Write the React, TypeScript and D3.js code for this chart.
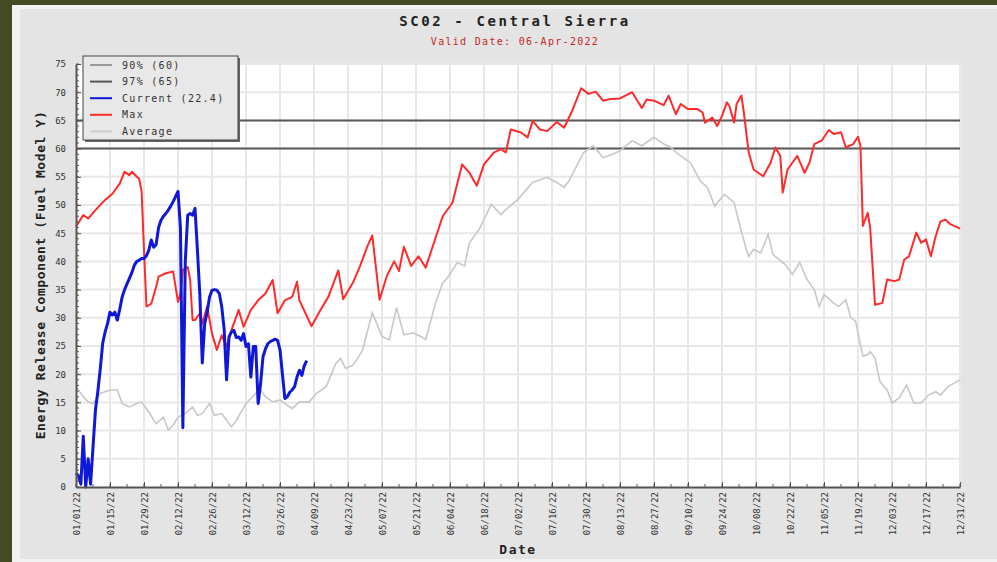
import { useEffect, useRef } from "react";
import * as d3 from "d3";

// day of year (0 = Jan 1 2022), ERC value
const maxErc: [number, number][] = [
  [0, 46.2], [3, 48.2], [5, 47.6], [8, 49.1], [12, 50.9], [15, 52.0], [18, 53.8], [20, 55.9],
  [22, 55.3], [23, 55.9], [26, 54.6], [27, 52.5], [28, 42.0], [29, 32.0], [31, 32.5], [33, 35.5],
  [34, 37.3], [37, 37.9], [40, 38.2], [42, 32.8], [43, 34.3], [44, 38.5], [46, 39.0], [47, 36.7],
  [48, 29.6], [49, 29.6], [51, 30.8], [52, 29.0], [54, 32.0], [56, 27.2], [58, 24.3], [60, 26.9],
  [62, 24.9], [64, 27.8], [67, 31.4], [69, 28.4], [72, 31.4], [75, 33.1], [78, 34.3], [81, 36.7],
  [83, 30.8], [86, 33.1], [89, 33.7], [91, 36.4], [92, 33.1], [97, 28.5], [100, 30.9], [104, 33.8],
  [108, 38.4], [110, 33.3], [114, 36.2], [117, 39.2], [120, 42.7], [122, 44.6], [125, 33.2],
  [128, 37.4], [131, 40.0], [133, 38.3], [135, 42.6], [138, 39.2], [141, 40.9], [144, 38.9],
  [151, 48.0], [155, 50.4], [159, 57.2], [162, 55.7], [165, 53.4], [168, 57.2], [172, 59.3],
  [175, 59.9], [177, 59.3], [179, 63.4], [183, 62.9], [186, 62.0], [188, 64.9], [191, 63.4],
  [194, 63.1], [198, 64.7], [201, 63.7], [204, 66.4], [208, 70.7], [211, 69.7], [214, 70.1],
  [217, 68.5], [220, 68.8], [224, 68.9], [229, 70.0], [233, 67.2], [235, 68.7], [238, 68.5],
  [242, 67.7], [244, 69.4], [247, 66.1], [249, 67.9], [252, 67.0], [256, 67.0], [258, 66.4],
  [259, 64.6], [262, 65.5], [264, 64.0], [266, 65.8], [268, 68.2], [269, 67.6], [271, 64.6],
  [272, 67.9], [274, 69.4], [275, 66.4], [277, 59.3], [279, 56.3], [283, 55.1], [286, 57.5],
  [288, 60.2], [290, 58.7], [291, 52.2], [293, 56.3], [297, 58.7], [300, 55.7], [302, 57.5],
  [304, 60.8], [307, 61.4], [310, 63.3], [312, 62.6], [315, 62.9], [317, 60.2], [320, 60.8],
  [322, 62.1], [323, 60.5], [324, 46.3], [326, 48.6], [327, 46.0], [329, 32.3], [332, 32.6],
  [334, 36.8], [337, 36.5], [339, 36.8], [341, 40.3], [343, 40.9], [346, 45.1], [348, 43.3],
  [350, 43.9], [352, 40.9], [354, 44.5], [356, 47.1], [358, 47.4], [360, 46.6], [364, 45.8],
];

const avgErc: [number, number][] = [
  [0, 17.8], [3, 16.0], [5, 15.1], [7, 14.8], [10, 16.6], [14, 17.2], [17, 17.2], [19, 14.8],
  [22, 14.2], [25, 14.8], [27, 15.1], [30, 13.3], [33, 11.2], [36, 12.4], [38, 10.1], [40, 11.0],
  [42, 12.4], [45, 13.0], [48, 14.2], [50, 12.7], [52, 13.0], [55, 14.8], [57, 12.7], [60, 13.0],
  [64, 10.7], [66, 11.8], [70, 14.8], [74, 16.6], [76, 17.2], [78, 16.0], [81, 15.1], [84, 15.4],
  [86, 14.8], [89, 13.9], [92, 15.1], [96, 15.1], [99, 16.6], [103, 17.8], [107, 21.9],
  [109, 22.8], [111, 21.0], [114, 21.6], [116, 22.8], [118, 24.3], [122, 30.9], [126, 26.7],
  [129, 26.1], [132, 31.8], [135, 27.0], [139, 27.3], [142, 26.7], [144, 26.1], [148, 32.6],
  [151, 36.2], [153, 37.1], [157, 39.8], [160, 39.2], [162, 43.3], [166, 45.7], [171, 50.1],
  [175, 48.3], [177, 49.2], [182, 51.0], [188, 54.0], [194, 54.9], [198, 54.0], [201, 53.1],
  [203, 54.3], [209, 59.3], [213, 60.5], [217, 58.4], [221, 59.0], [224, 59.6], [229, 61.4],
  [233, 60.5], [238, 62.0], [242, 60.8], [245, 60.2], [248, 59.0], [253, 57.5], [257, 54.3],
  [260, 53.1], [263, 49.8], [267, 51.9], [271, 50.4], [273, 46.9], [276, 42.1], [277, 40.9],
  [279, 42.1], [282, 41.5], [285, 44.8], [287, 41.2], [291, 39.8], [292, 39.5], [295, 37.7],
  [298, 39.8], [301, 36.8], [304, 35.0], [306, 32.0], [308, 34.1], [312, 32.6], [314, 32.0],
  [317, 33.2], [319, 30.0], [321, 29.4], [324, 23.2], [326, 23.5], [327, 24.0], [329, 22.9],
  [331, 18.7], [334, 17.2], [336, 14.9], [339, 15.8], [342, 18.1], [345, 14.9], [348, 14.9],
  [351, 16.3], [354, 16.9], [356, 16.3], [359, 17.8], [364, 19.0],
];

const currentErc: [number, number][] = [
  [0, 2.4], [1, 2.0], [2, 0.5], [3, 9.0], [4, 0], [5, 5.0], [6, 0.5], [7, 7.0], [8, 13.6],
  [9, 17.0], [10, 21.0], [11, 25.5], [12, 27.5], [13, 29.0], [14, 31.0], [15, 30.5], [16, 31.0],
  [17, 29.6], [18, 31.5], [19, 33.7], [20, 35.0], [21, 36.0], [22, 37.0], [23, 38.0], [24, 39.3],
  [25, 40.0], [26, 40.2], [27, 40.5], [28, 40.5], [29, 41.0], [30, 42.0], [31, 43.8], [32, 42.5],
  [33, 43.0], [34, 46.0], [35, 47.3], [36, 48.0], [37, 48.5], [38, 49.1], [39, 49.8], [40, 50.6],
  [41, 51.5], [42, 52.4], [43, 46.0], [44, 10.5], [45, 40.0], [46, 48.2], [47, 48.5], [48, 48.2],
  [49, 49.4], [50, 42.0], [51, 34.0], [52, 22.0], [53, 29.0], [54, 31.0], [55, 33.7], [56, 34.9],
  [57, 35.0], [58, 34.9], [59, 34.3], [60, 32.0], [61, 28.0], [62, 19.0], [63, 26.6], [64, 27.5],
  [65, 27.8], [66, 26.5], [67, 26.6], [68, 26.0], [69, 27.2], [70, 24.9], [71, 25.4], [72, 19.5],
  [73, 24.9], [74, 24.9], [75, 14.8], [76, 18.3], [77, 23.1], [78, 24.5], [79, 25.4], [80, 25.8],
  [81, 26.0], [82, 26.2], [83, 26.0], [84, 24.3], [85, 20.0], [86, 15.7], [87, 16.0], [88, 16.8],
  [89, 17.2], [90, 17.8], [91, 19.5], [92, 20.7], [93, 19.8], [94, 21.5], [95, 22.4],
];

const pct90 = 60;
const pct97 = 65;
const yTickValues = [0, 5, 10, 15, 20, 25, 30, 35, 40, 45, 50, 55, 60, 65, 70, 75];
const legendLabels = ["90% (60)", "97% (65)", "Current (22.4)", "Max", "Average"];
const legendColors = ["#9a9a9a", "#555555", "#1018d8", "#ff2a2a", "#cccccc"];

const titleText = "SC02 - Central Sierra";
const subtitleText = "Valid Date: 06-Apr-2022";
const yTitle = "Energy Release Component (Fuel Model Y)";
const xTitle = "Date";

const FONT = "'DejaVu Sans Mono', monospace";

export default function App() {
  const ref = useRef<SVGSVGElement>(null);

  useEffect(() => {
    const svg = d3.select(ref.current);
    svg.selectAll("*").remove();

    const start = new Date(2022, 0, 1);
    const day = (d: number) => d3.timeDay.offset(start, d);
    const x = d3.scaleTime().domain([start, day(364)]).range([76, 960]);
    const y = d3.scaleLinear().domain([0, 75]).range([487, 64]);

    // frame
    svg.append("rect").attr("width", 997).attr("height", 562).attr("fill", "#464a24");
    svg.append("rect").attr("x", 12).attr("y", 5).attr("width", 985).attr("height", 557).attr("fill", "#f2f2f2");
    svg.append("rect").attr("x", 20).attr("y", 9).attr("width", 977).attr("height", 550).attr("fill", "#e4e4e4");

    svg.append("rect").attr("x", 76).attr("y", 64).attr("width", 884).attr("height", 423).attr("fill", "#fff");

    // grid
    const majorDays = d3.timeDay.range(start, day(365), 14);
    const minorDays = d3.timeDay.range(start, day(365), 7);
    const grid = svg.append("g").attr("stroke", "#e8e8e8").attr("stroke-width", 2);
    grid.selectAll(".gx").data(majorDays).join("line")
      .attr("x1", (d) => x(d)).attr("x2", (d) => x(d)).attr("y1", 64).attr("y2", 487);
    grid.selectAll(".gy").data(yTickValues.slice(1)).join("line")
      .attr("x1", 76).attr("x2", 960).attr("y1", (d) => y(d)).attr("y2", (d) => y(d));

    // percentile lines
    svg.append("g").selectAll("line").data([pct90, pct97]).join("line")
      .attr("x1", 76).attr("x2", 960)
      .attr("y1", (d) => y(d)).attr("y2", (d) => y(d))
      .attr("stroke", "#5a5a5a").attr("stroke-width", 2);

    const line = d3.line<[number, number]>()
      .x((d) => x(day(d[0])))
      .y((d) => y(d[1]));

    svg.append("path").attr("d", line(avgErc)).attr("fill", "none")
      .attr("stroke", "#c8c8c8").attr("stroke-width", 1.6);
    svg.append("path").attr("d", line(maxErc)).attr("fill", "none")
      .attr("stroke", "#ff2a2a").attr("stroke-width", 2).attr("stroke-linejoin", "round");
    svg.append("path").attr("d", line(currentErc)).attr("fill", "none")
      .attr("stroke", "#1018d8").attr("stroke-width", 3).attr("stroke-linejoin", "round");

    // x axis
    const xAxis = svg.append("g").attr("transform", "translate(0,487)")
      .call(
        d3.axisBottom(x)
          .tickValues(majorDays)
          .tickFormat((d) => d3.timeFormat("%m/%d/%y")(d as Date))
          .tickSizeInner(-5)
          .tickSizeOuter(0)
      );
    xAxis.select(".domain").attr("stroke", "#555").attr("stroke-width", 2);
    xAxis.selectAll(".tick line").attr("stroke", "#555");
    xAxis.selectAll("text")
      .attr("transform", "rotate(-90)")
      .attr("x", -5).attr("y", 0).attr("dy", "0.35em")
      .attr("text-anchor", "end")
      .attr("font-family", FONT).attr("font-size", 9).attr("fill", "#333");
    svg.append("g").selectAll("line").data(minorDays).join("line")
      .attr("x1", (d) => x(d)).attr("x2", (d) => x(d)).attr("y1", 487).attr("y2", 484)
      .attr("stroke", "#555");

    // y axis
    const yAxis = svg.append("g").attr("transform", "translate(76,0)")
      .call(d3.axisLeft(y).tickValues(yTickValues).tickSizeInner(-5).tickSizeOuter(0).tickPadding(10));
    yAxis.select(".domain").attr("stroke", "#555").attr("stroke-width", 2);
    yAxis.selectAll(".tick line").attr("stroke", "#555");
    yAxis.selectAll("text").attr("font-family", FONT).attr("font-size", 9).attr("fill", "#333");
    svg.append("g").selectAll("line").data(d3.range(0, 76)).join("line")
      .attr("x1", 76).attr("x2", 79).attr("y1", (d) => y(d)).attr("y2", (d) => y(d))
      .attr("stroke", "#555");

    // legend
    const lg = svg.append("g").attr("transform", "translate(83,56)");
    lg.append("rect").attr("x", 2).attr("y", 2).attr("width", 155).attr("height", 84).attr("fill", "#666");
    lg.append("rect").attr("width", 155).attr("height", 84).attr("fill", "#e8e8e8").attr("stroke", "#444");
    const items = lg.selectAll(".item").data(legendLabels).join("g")
      .attr("transform", (_, i) => `translate(0,${9 + i * 16.6})`);
    items.append("line").attr("x1", 7).attr("x2", 29).attr("y1", 0).attr("y2", 0)
      .attr("stroke", (_, i) => legendColors[i]).attr("stroke-width", 2);
    items.append("text").attr("x", 39).attr("y", 0).attr("dy", "0.35em")
      .attr("font-family", FONT).attr("font-size", 10).attr("letter-spacing", 1.3)
      .attr("fill", "#333").text((d) => d);

    // titles
    svg.append("text").attr("x", 515).attr("y", 26).attr("text-anchor", "middle")
      .attr("font-family", FONT).attr("font-weight", "bold").attr("font-size", 14)
      .attr("letter-spacing", 2.6).attr("fill", "#222").text(titleText);
    svg.append("text").attr("x", 515).attr("y", 45).attr("text-anchor", "middle")
      .attr("font-family", FONT).attr("font-size", 10).attr("letter-spacing", 1.3)
      .attr("fill", "#c0282a").text(subtitleText);
    svg.append("text").attr("x", 518).attr("y", 554).attr("text-anchor", "middle")
      .attr("font-family", FONT).attr("font-weight", "bold").attr("font-size", 13)
      .attr("letter-spacing", 1.5).attr("fill", "#222").text(xTitle);
    svg.append("text").attr("transform", "translate(45,275) rotate(-90)").attr("text-anchor", "middle")
      .attr("font-family", FONT).attr("font-weight", "bold").attr("font-size", 13)
      .attr("letter-spacing", 0.6).attr("fill", "#222").text(yTitle);
  }, []);

  return (
    <svg ref={ref} width={997} height={562} style={{ position: "absolute", left: 0, top: 0 }} />
  );
}
